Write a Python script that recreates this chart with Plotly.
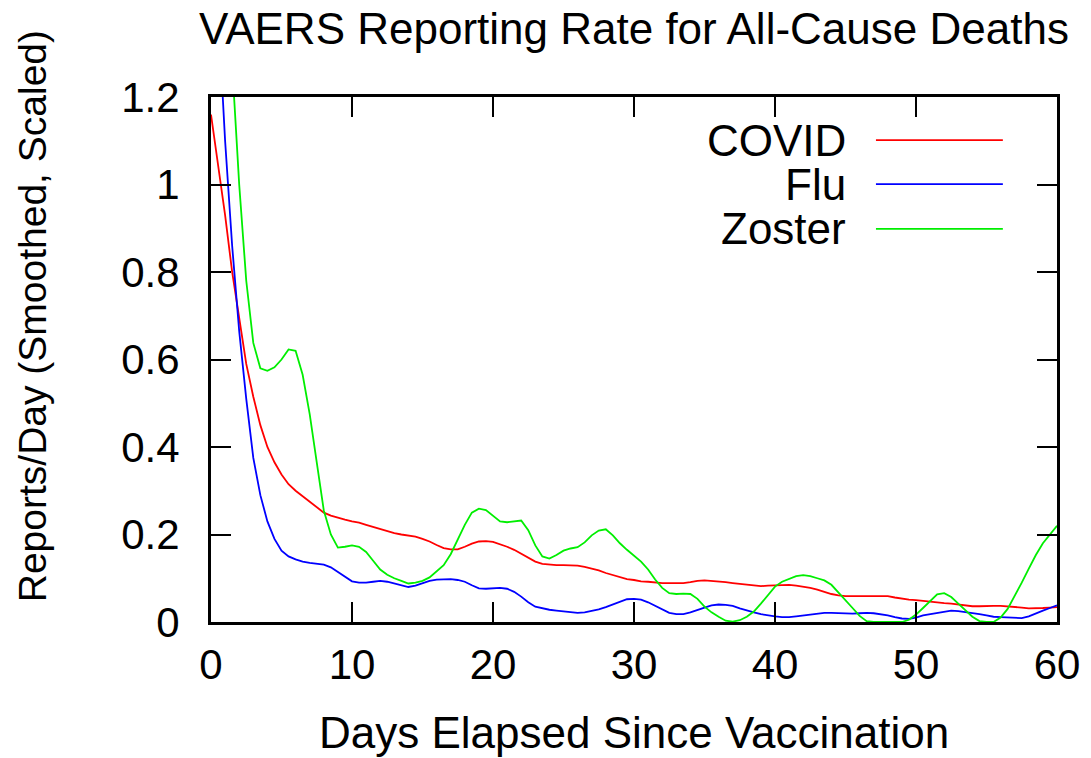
import plotly.graph_objects as go

days = [i * 0.5 for i in range(121)]

covid = [1.16, 1.05, 0.93, 0.80, 0.69, 0.59, 0.515, 0.45, 0.40, 0.365,
         0.337, 0.315, 0.30, 0.288, 0.276, 0.262, 0.250, 0.243, 0.238, 0.234,
         0.230, 0.227, 0.222, 0.217, 0.212, 0.207, 0.203, 0.200, 0.198, 0.195,
         0.190, 0.184, 0.176, 0.169, 0.166, 0.166, 0.172, 0.179, 0.184, 0.185,
         0.183, 0.178, 0.172, 0.165, 0.156, 0.147, 0.138, 0.133, 0.131, 0.130,
         0.130, 0.130, 0.129, 0.126, 0.122, 0.118, 0.112, 0.107, 0.102, 0.098,
         0.096, 0.093, 0.092, 0.090, 0.089, 0.089, 0.089, 0.089, 0.091, 0.094,
         0.095, 0.094, 0.093, 0.091, 0.089, 0.087, 0.085, 0.083, 0.082, 0.083,
         0.084, 0.085, 0.085, 0.083, 0.081, 0.078, 0.074, 0.069, 0.064, 0.061,
         0.059, 0.059, 0.059, 0.060, 0.060, 0.060, 0.059, 0.056, 0.053, 0.051,
         0.050, 0.048, 0.047, 0.045, 0.043, 0.042, 0.040, 0.038, 0.036, 0.036,
         0.037, 0.037, 0.037, 0.036, 0.035, 0.033, 0.031, 0.031, 0.032, 0.033,
         0.034]

flu = [1.65, 1.40, 1.10, 0.86, 0.665, 0.51, 0.375, 0.29, 0.23, 0.19,
       0.163, 0.150, 0.143, 0.138, 0.135, 0.133, 0.131, 0.125, 0.114, 0.102,
       0.093, 0.090, 0.090, 0.092, 0.094, 0.092, 0.088, 0.084, 0.080, 0.083,
       0.088, 0.094, 0.097, 0.098, 0.098, 0.096, 0.092, 0.084, 0.077, 0.076,
       0.077, 0.078, 0.076, 0.069, 0.058, 0.045, 0.035, 0.031, 0.028, 0.026,
       0.024, 0.022, 0.021, 0.022, 0.025, 0.029, 0.034, 0.040, 0.046, 0.052,
       0.053, 0.051, 0.045, 0.037, 0.028, 0.021, 0.018, 0.018, 0.022, 0.028,
       0.033, 0.038, 0.040, 0.039, 0.037, 0.031, 0.026, 0.022, 0.018, 0.015,
       0.013, 0.011, 0.011, 0.013, 0.015, 0.017, 0.019, 0.021, 0.021, 0.020,
       0.019, 0.019, 0.020, 0.021, 0.020, 0.018, 0.015, 0.011, 0.008, 0.007,
       0.010, 0.015, 0.018, 0.021, 0.024, 0.026, 0.025, 0.023, 0.021, 0.018,
       0.015, 0.012, 0.011, 0.010, 0.009, 0.009, 0.013, 0.020, 0.026, 0.032,
       0.038]

zoster = [2.10, 1.82, 1.55, 1.27, 1.00, 0.78, 0.638, 0.580, 0.574, 0.582,
          0.600, 0.623, 0.620, 0.565, 0.475, 0.365, 0.255, 0.200, 0.170, 0.172,
          0.175, 0.172, 0.160, 0.140, 0.120, 0.108, 0.100, 0.094, 0.088, 0.090,
          0.094, 0.102, 0.115, 0.130, 0.155, 0.188, 0.222, 0.250, 0.259, 0.256,
          0.243, 0.230, 0.228, 0.230, 0.232, 0.210, 0.175, 0.150, 0.145, 0.153,
          0.163, 0.168, 0.171, 0.182, 0.198, 0.209, 0.212, 0.198, 0.180, 0.165,
          0.152, 0.138, 0.120, 0.097, 0.078, 0.066, 0.064, 0.065, 0.064, 0.053,
          0.035, 0.022, 0.012, 0.003, 0.001, 0.004, 0.012, 0.024, 0.042, 0.062,
          0.081, 0.092, 0.099, 0.105, 0.107, 0.105, 0.100, 0.095, 0.085, 0.068,
          0.050, 0.032, 0.014, 0.002, 0.0, 0.0, 0.0, 0.0, 0.0, 0.005,
          0.017, 0.032, 0.048, 0.063, 0.066, 0.057, 0.042, 0.026, 0.012, 0.002,
          0.0, 0.0, 0.010, 0.030, 0.059, 0.090, 0.122, 0.153, 0.180, 0.200,
          0.220]

series_names = ["COVID", "Flu", "Zoster"]
series_colors = ["#ff0000", "#0000ff", "#00ee00"]
series_values = [covid, flu, zoster]

x_ticks = [0, 10, 20, 30, 40, 50, 60]
y_ticks = [0, 0.2, 0.4, 0.6, 0.8, 1, 1.2]
y_tick_labels = ["0", "0.2", "0.4", "0.6", "0.8", "1", "1.2"]

FONT = "Liberation Sans, Arial, sans-serif"

# page body adds an 8px margin, so the figure is sized 8px smaller
W, H = 1083, 750

fig = go.Figure()
for name, color, vals in zip(series_names, series_colors, series_values):
    fig.add_trace(go.Scatter(x=days, y=vals, mode="lines", name=name,
                             line=dict(color=color, width=1.8),
                             showlegend=False, cliponaxis=True))

# legend drawn gnuplot-style: right-aligned label then a line sample
legend_y = [0.918, 0.834, 0.749]
for name, color, ly in zip(series_names, series_colors, legend_y):
    fig.add_annotation(x=0.753, y=ly, xref="paper", yref="paper", text=name,
                       showarrow=False, xanchor="right", yanchor="middle",
                       font=dict(family=FONT, size=44, color="black"))
    fig.add_shape(type="line", xref="paper", yref="paper",
                  x0=0.786, x1=0.936, y0=ly, y1=ly,
                  line=dict(color=color, width=1.8))

fig.add_annotation(x=0.5, y=-0.21, xref="paper", yref="paper",
                   text="Days Elapsed Since Vaccination", showarrow=False,
                   xanchor="center", yanchor="middle",
                   font=dict(family=FONT, size=44, color="black"))
fig.add_annotation(x=-0.21, y=0.583, xref="paper", yref="paper",
                   text="Reports/Day (Smoothed, Scaled)", showarrow=False,
                   textangle=-90, xanchor="center", yanchor="middle",
                   font=dict(family=FONT, size=39, color="black"))

fig.update_layout(
    width=W, height=H,
    margin=dict(l=203, r=34, t=89, b=136, autoexpand=False),
    paper_bgcolor="white", plot_bgcolor="white",
    font=dict(family=FONT, size=42, color="black"),
    title=dict(text="VAERS Reporting Rate for All-Cause Deaths",
               x=0.5, xref="paper", y=1 - 21 / H, yref="container",
               xanchor="center", yanchor="middle",
               font=dict(family=FONT, size=44, color="black")),
)
fig.update_xaxes(range=[0, 60], tickvals=x_ticks, ticks="inside", ticklen=20,
                 tickwidth=2, tickcolor="black", showline=True, linewidth=3,
                 linecolor="black", mirror="allticks", showgrid=False,
                 zeroline=False, ticklabelstandoff=4)
fig.update_yaxes(range=[0, 1.2], tickvals=y_ticks, ticktext=y_tick_labels,
                 ticks="inside", ticklen=20, tickwidth=2, tickcolor="black",
                 showline=True, linewidth=3, linecolor="black",
                 mirror="allticks", showgrid=False, zeroline=False,
                 ticklabelstandoff=20)

fig.write_html("out.html")
